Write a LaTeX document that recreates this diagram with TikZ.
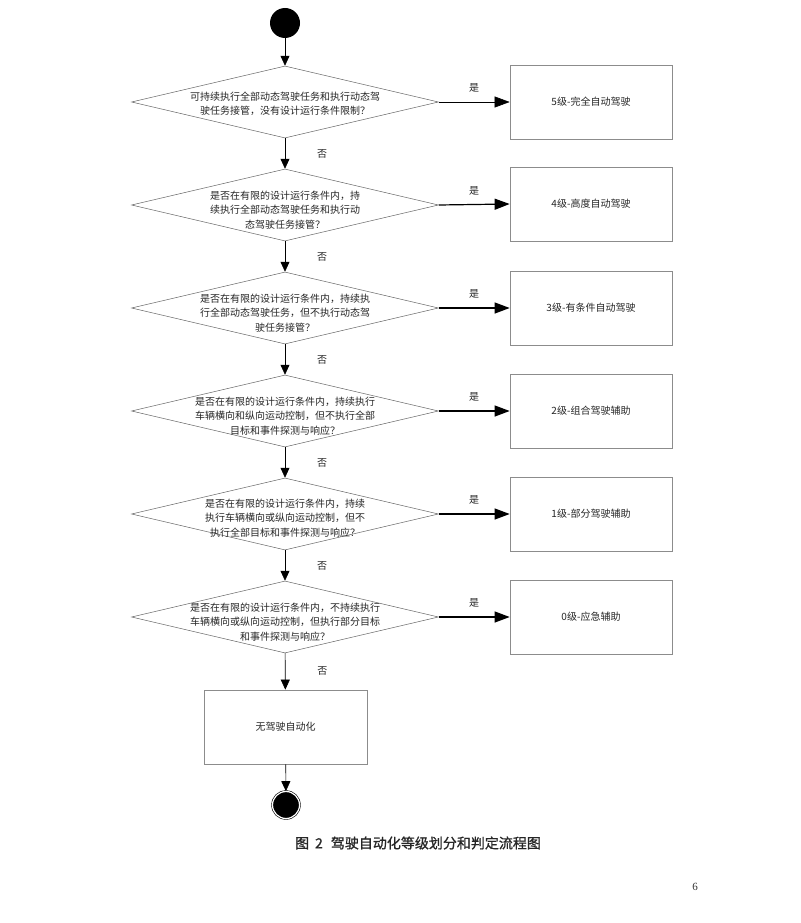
\documentclass[tikz,border=0pt]{standalone}
\usepackage{fontspec}
\setmainfont{Liberation Serif}
\newfontfamily\cjk{Noto Sans CJK SC}
\newfontfamily\cjkbold[FakeBold=1]{Noto Sans CJK SC}
\usetikzlibrary{shapes.geometric,arrows.meta}
\begin{document}
\begin{tikzpicture}[x=1pt,y=-1pt,
  dia/.style={shape=diamond, draw=black!60, line width=0.5pt, minimum width=307pt, minimum height=72pt, inner sep=0pt},
  dtext/.style={font=\cjk\fontsize{10}{14.5}\selectfont, align=center, inner sep=0pt, text=black!85},
  lvl/.style={rectangle, draw=black!45, line width=0.7pt, minimum width=162pt, minimum height=74pt, inner sep=0pt, font=\cjk\fontsize{10}{12}\selectfont, text=black!85},
  varrow/.style={line width=0.6pt, -{Triangle[length=10pt,width=9pt]}},
  harrow/.style={line width=1.2pt, -{Triangle[length=15pt,width=11pt]}},
  yes/.style={font=\cjk\fontsize{10}{12}\selectfont, text=black!85, yshift=14pt, inner sep=0pt},
  no/.style={font=\cjk\fontsize{10}{12}\selectfont, text=black!85, xshift=37pt, inner sep=0pt},
  startdot/.style={circle, fill=black, minimum size=30pt, inner sep=0pt},
  enddot/.style={circle, draw=black, double=white, double distance=1.2pt, line width=0.6pt, fill=black, minimum size=27pt, inner sep=0pt}
]
\useasboundingbox[fill=white] (0,0) rectangle (800,923);

\node[startdot] (start) at (285,23) {};

\node[dia] (d1) at (285,102) {};
\node[dia] (d2) at (285,205) {};
\node[dia] (d3) at (285,308) {};
\node[dia] (d4) at (285,411) {};
\node[dia] (d5) at (285,514) {};
\node[dia] (d6) at (285,617) {};

\node[dtext] (t1) at (285,104) {可持续执行全部动态驾驶任务和执行动态驾\\驶任务接管，没有设计运行条件限制？};
\node[dtext] (t2) at (285,210) {是否在有限的设计运行条件内，持\\续执行全部动态驾驶任务和执行动\\态驾驶任务接管？};
\node[dtext] (t3) at (285,313) {是否在有限的设计运行条件内，持续执\\行全部动态驾驶任务，但不执行动态驾\\驶任务接管？};
\node[dtext] (t4) at (285,416) {是否在有限的设计运行条件内，持续执行\\车辆横向和纵向运动控制，但不执行全部\\目标和事件探测与响应？};
\node[dtext] (t5) at (285,518) {是否在有限的设计运行条件内，持续\\执行车辆横向或纵向运动控制，但不\\执行全部目标和事件探测与响应？};
\node[dtext] (t6) at (285,622) {是否在有限的设计运行条件内，不持续执行\\车辆横向或纵向运动控制，但执行部分目标\\和事件探测与响应？};

\node[lvl] (b5) at (591,102) {5级-完全自动驾驶};
\node[lvl] (b4) at (591,204) {4级-高度自动驾驶};
\node[lvl] (b3) at (591,308) {3级-有条件自动驾驶};
\node[lvl] (b2) at (591,411) {2级-组合驾驶辅助};
\node[lvl] (b1) at (591,514) {1级-部分驾驶辅助};
\node[lvl] (b0) at (591,617) {0级-应急辅助};

\node[lvl, minimum width=163pt] (none) at (285.5,727) {无驾驶自动化};
\node[enddot] (stop) at (286,805) {};

\draw[varrow] (start) -- (d1);
\draw[varrow] (d1) -- node[no] {否} (d2);
\draw[varrow] (d2) -- node[no] {否} (d3);
\draw[varrow] (d3) -- node[no] {否} (d4);
\draw[varrow] (d4) -- node[no] {否} (d5);
\draw[varrow] (d5) -- node[no] {否} (d6);
\draw[varrow] (d6) -- node[no] {否} (none);
\draw[varrow] (none) -- (stop);

\draw[harrow, line width=0.6pt] (d1.east) -- node[yes] {是} (b5.west);
\draw[harrow] (d2.east) -- node[yes] {是} (b4.west);
\draw[harrow] (d3.east) -- node[yes] {是} (b3.west);
\draw[harrow] (d4.east) -- node[yes] {是} (b2.west);
\draw[harrow] (d5.east) -- node[yes] {是} (b1.west);
\draw[harrow] (d6.east) -- node[yes] {是} (b0.west);

\node[font=\cjkbold\fontsize{14}{16}\selectfont, text=black!85, inner sep=0pt] (caption) at (418,843) {图\hspace{6pt}2\hspace{8pt}驾驶自动化等级划分和判定流程图};
\node[font=\fontsize{11}{12}\selectfont, text=black!80, inner sep=0pt] (pageno) at (695,887) {6};
\end{tikzpicture}
\end{document}
